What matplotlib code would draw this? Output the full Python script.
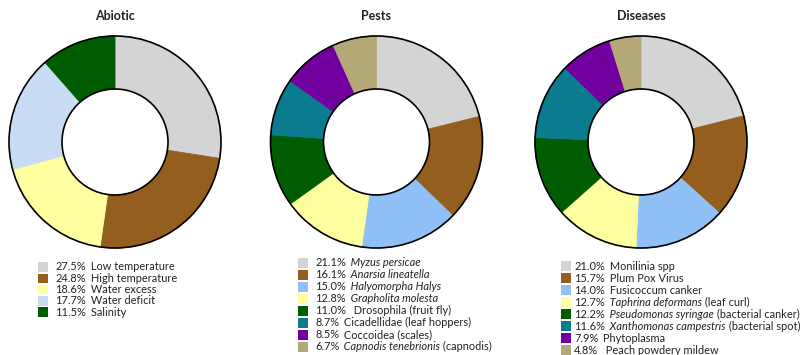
import matplotlib
matplotlib.use("Agg")
import matplotlib.pyplot as plt
from matplotlib.patches import Circle, Rectangle

plt.rcParams['font.family'] = ['Lato', 'DejaVu Sans']

# data
abiotic_pct = [27.5, 24.8, 18.6, 17.7, 11.5]
abiotic_lbl = ["Low temperature", "High temperature", "Water excess",
               "Water deficit", "Salinity"]
pests_pct = [21.1, 16.1, 15.0, 12.8, 11.0, 8.7, 8.5, 6.7]
pests_lbl = ["*Myzus persicae*", "*Anarsia lineatella*", "*Halyomorpha Halys*",
             "*Grapholita molesta*", " Drosophila (fruit fly)",
             "Cicadellidae (leaf hoppers)", "Coccoidea (scales)",
             "*Capnodis tenebrionis* (capnodis)"]
dis_pct = [21.0, 15.7, 14.0, 12.7, 12.2, 11.6, 7.9, 4.8]
dis_lbl = ["Monilinia spp", "Plum Pox Virus", "Fusicoccum canker",
           "*Taphrina deformans* (leaf curl)",
           "*Pseudomonas syringae* (bacterial canker)",
           "*Xanthomonas campestris* (bacterial spot)",
           "Phytoplasma", " Peach powdery mildew"]

gray, brown, yellow, green = '#d4d4d4', '#945f1e', '#ffffa0', '#005c00'
abiotic_col = [gray, brown, yellow, '#c8ddf5', green]
bio_col = [gray, brown, '#8fc0f6', yellow, green, '#0b7b8f', '#71009f', '#b5a878']

W, H = 808, 355
fig = plt.figure(figsize=(W / 100, H / 100), dpi=100)

panels = [
    ("Abiotic", abiotic_pct, abiotic_lbl, abiotic_col, 115, (38, 55, 267, 11.3)),
    ("Pests", pests_pct, pests_lbl, bio_col, 376.5, (298, 315, 263, 12.0)),
    ("Diseases", dis_pct, dis_lbl, bio_col, 641, (561, 574, 266, 12.0)),
]

R = 106
cy = 142
pad = 1.03
fs = 7.9
for title, pct, lbl, cols, cx, (sqx, tx, ly0, dy) in panels:
    S = 2 * R * pad
    ax = fig.add_axes([(cx - S / 2) / W, (H - cy - S / 2) / H, S / W, S / H])
    wedges, _ = ax.pie(pct, colors=cols, startangle=90, counterclock=False,
                       radius=1, wedgeprops=dict(width=0.5, linewidth=0.6))
    for w in wedges:
        w.set_edgecolor(w.get_facecolor())
    ax.add_patch(Circle((0, 0), 1, fill=False, ec='black', lw=1.2))
    ax.add_patch(Circle((0, 0), 0.5, fill=False, ec='black', lw=1.2))
    ax.set_xlim(-pad, pad)
    ax.set_ylim(-pad, pad)
    ax.axis('off')

    fig.text(cx / W, 1 - 16 / H, title, ha='center', va='center',
             fontsize=9, fontweight='bold', color='#222222')

    # legend rows, *...* marks italic parts
    for i, (p, name) in enumerate(zip(pct, lbl)):
        y = ly0 + i * dy
        fig.add_artist(Rectangle((sqx / W, (H - y - 4.7) / H), 9.5 / W, 9.5 / H,
                                 transform=fig.transFigure, color=cols[i], lw=0))
        t = fig.text(tx / W, 1 - y / H, f"{p:.1f}%", ha='left', va='center',
                     fontsize=fs, color='#222222')
        first = True
        for k, seg in enumerate(name.split('*')):
            if not seg:
                continue
            off = 0
            if first:
                seg = ' ' + seg
                off = 1.5
                first = False
            t = ax.annotate(seg, xy=(1, 0), xycoords=t, xytext=(off, 0),
                            textcoords='offset points', ha='left', va='bottom',
                            fontsize=fs, color='#222222',
                            fontstyle='italic' if k % 2 else 'normal',
                            annotation_clip=False)

fig.savefig("out.png", dpi=100)
